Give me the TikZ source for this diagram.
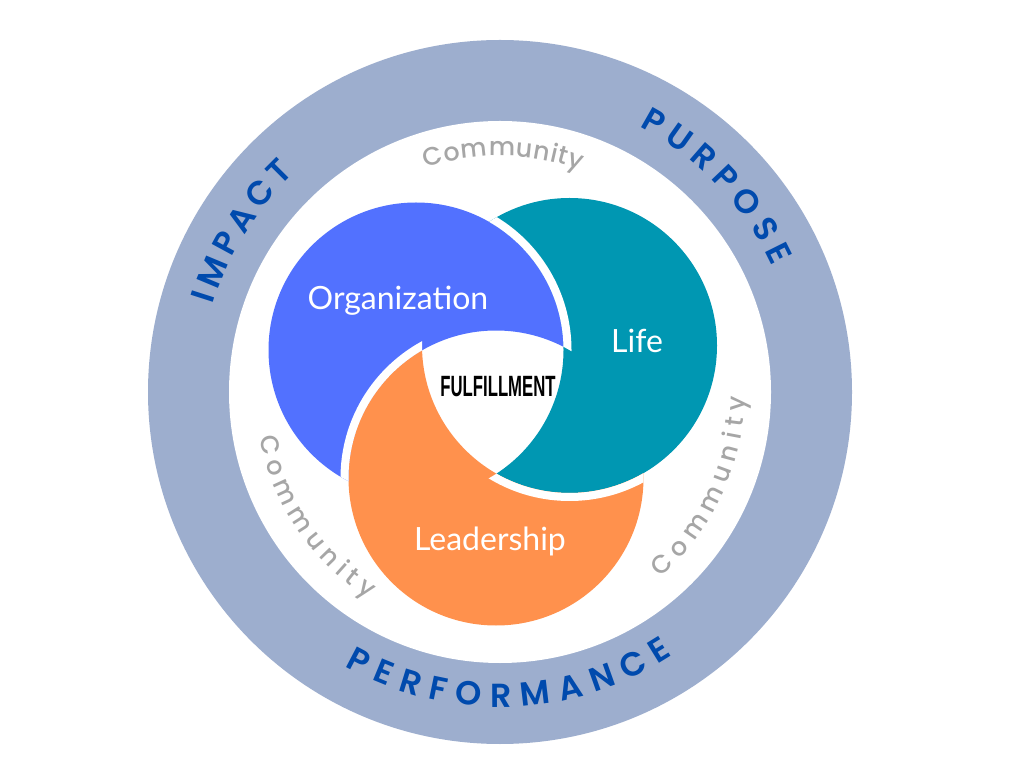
\documentclass[tikz,border=0pt]{standalone}
\usepackage{fontspec}
\usepackage{tikz}
\usetikzlibrary{decorations.text}
\newfontfamily\ringfont{Poppins SemiBold}
\newfontfamily\commfont{Poppins Medium}
\newfontfamily\labelfont{Lato}
\newfontfamily\hubfont[FakeStretch=0.57]{Liberation Sans}
\definecolor{ringblue}{RGB}{157,174,206}
\definecolor{wordblue}{RGB}{0,74,173}
\definecolor{orgblue}{RGB}{82,113,255}
\definecolor{lifeteal}{RGB}{0,151,178}
\definecolor{leadorange}{RGB}{255,145,77}
\definecolor{commgray}{RGB}{166,166,166}

\begin{document}
\begin{tikzpicture}[
  x=0.75pt, y=0.75pt,
  petaltext/.style={text=white, font=\labelfont\fontsize{24}{24}\selectfont, anchor=base},
  hubtext/.style={font=\hubfont\bfseries\fontsize{22}{22}\selectfont, anchor=base},
  gap/.style={draw=white, line width=6pt},
  ringword/.style={decorate, decoration={text along path, text align=fit to path,
      text={|\ringfont\fontsize{25}{25}\selectfont\color{wordblue}|#1}}},
  commword/.style={decorate, decoration={text along path, text align=fit to path,
      text={|\commfont\fontsize{19}{19}\selectfont\color{commgray}|#1}}},
  outside/.style={insert path={(0,768) -- (1024,768) -- (1024,0) -- (0,0) -- cycle}}
]
  \useasboundingbox (0,0) rectangle (1024,768);
  \fill[white] (0,0) rectangle (1024,768);

  % outer band
  \coordinate (C) at (500,376);
  \fill[ringblue] (C) circle[radius=352];
  \fill[white] (C) circle[radius=271];

  \coordinate (O) at (416,418);
  \coordinate (L) at (569.5,422.5);
  \coordinate (D) at (496,290);

  % three crescents, each cut by the next one
  \begin{scope}
    \clip (O) circle[radius=147.5] [outside];
    \fill[lifeteal] (L) circle[radius=147.5];
  \end{scope}
  \begin{scope}
    \clip (D) circle[radius=147.5] [outside];
    \fill[orgblue] (O) circle[radius=147.5];
  \end{scope}
  \begin{scope}
    \clip (L) circle[radius=147.5] [outside];
    \fill[leadorange] (D) circle[radius=147.5];
  \end{scope}

  % white gaps where two crescents touch
  \begin{scope}
    \clip (L) circle[radius=147.5];
    \clip (D) circle[radius=147.5] [outside];
    \draw[gap] (O) circle[radius=151.5];
  \end{scope}
  \begin{scope}
    \clip (O) circle[radius=147.5];
    \clip (L) circle[radius=147.5] [outside];
    \draw[gap] (D) circle[radius=151.5];
  \end{scope}
  \begin{scope}
    \clip (D) circle[radius=147.5];
    \clip (O) circle[radius=147.5] [outside];
    \draw[gap] (L) circle[radius=151.5];
  \end{scope}

  \node[petaltext] (org) at (398,458) {Organization};
  \node[petaltext] (life) at (637,415) {Life};
  \node[petaltext] (lead) at (490,218) {Leadership};
  \node[hubtext] (hub) at (498,371) {FULFILLMENT};

  % words on the band
  \path[ringword=IMPACT] (C) ++(163.1:300) arc[start angle=163.1, end angle=133.2, radius=300];
  \path[ringword=PURPOSE] (C) ++(62.3:300) arc[start angle=62.3, end angle=24.8, radius=300];
  \path[ringword=PERFORMANCE] (C) ++(240.5:315) arc[start angle=240.5, end angle=303.3, radius=315];

  % community ring
  \path[commword=Community] (C) ++(108.3:236) arc[start angle=108.3, end angle=70, radius=236];
  \path[commword=Community] (C) ++(190.6:245) arc[start angle=190.6, end angle=237.5, radius=245];
  \path[commword=Community] (C) ++(310.9:245) arc[start angle=310.9, end angle=358.8, radius=245];
\end{tikzpicture}
\end{document}
